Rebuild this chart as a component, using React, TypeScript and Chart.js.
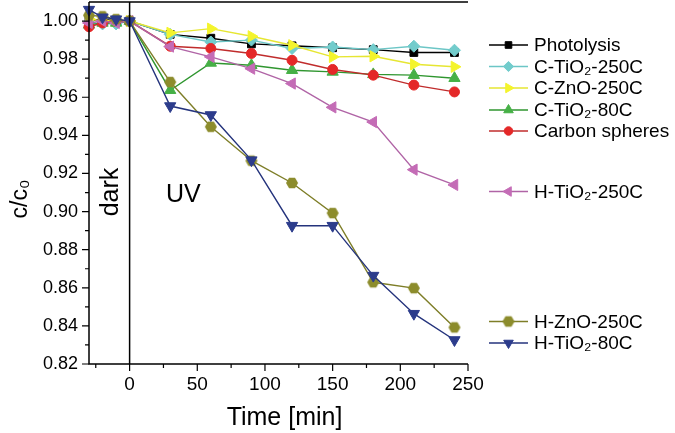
import React, { useEffect, useRef } from 'react';
import { Chart, registerables } from 'chart.js';
import { drawPoint } from 'chart.js/helpers';

Chart.register(...registerables);

// ---- data ----
const times = [-30, -20, -10, 0, 30, 60, 90, 120, 150, 180, 210, 240];
const photolysis = [1.0, 1.001, 1.0, 1.0, 0.993, 0.991, 0.988, 0.987, 0.986, 0.985, 0.9835, 0.9835];
const cTiO2_250 = [0.999, 0.9985, 0.9985, 1.0, 0.993, 0.989, 0.99, 0.9856, 0.9864, 0.985, 0.9868, 0.9847];
const cZnO_250 = [1.001, 1.0, 1.0, 1.0, 0.9938, 0.996, 0.992, 0.9873, 0.9812, 0.9815, 0.9773, 0.976];
const cTiO2_80 = [0.998, 0.999, 0.999, 1.0, 0.9637, 0.978, 0.9768, 0.9742, 0.9733, 0.972, 0.9716, 0.97];
const carbonSpheres = [0.997, 0.999, 1.0, 1.0, 0.9868, 0.9856, 0.983, 0.9794, 0.9746, 0.9716, 0.9664, 0.9628];
const hTiO2_250 = [0.999, 1.0, 0.999, 1.0, 0.9866, 0.9812, 0.975, 0.9672, 0.9547, 0.947, 0.922, 0.914];
const hZnO_250 = [1.003, 1.0025, 1.001, 1.0, 0.968, 0.9445, 0.9267, 0.915, 0.8992, 0.8629, 0.8598, 0.8392];
const hTiO2_80 = [1.006, 1.002, 1.001, 1.0, 0.9554, 0.9507, 0.927, 0.8926, 0.8926, 0.8664, 0.8464, 0.8326];

const seriesLabels = [
  'Photolysis',
  'C-TiO₂-250C',
  'C-ZnO-250C',
  'C-TiO₂-80C',
  'Carbon spheres',
  'H-TiO₂-250C',
  'H-ZnO-250C',
  'H-TiO₂-80C',
];

const xMajorTicks = [0, 50, 100, 150, 200, 250];
const xMinorTicks = [-25, 25, 75, 125, 175, 225];
const yMajorTicks = [0.82, 0.84, 0.86, 0.88, 0.9, 0.92, 0.94, 0.96, 0.98, 1.0];
const yMinorTicks = [0.83, 0.85, 0.87, 0.89, 0.91, 0.93, 0.95, 0.97, 0.99];

// ---- styles ----
const markerColors = ['#000000', '#72CCCC', '#F4F42C', '#46B046', '#E42828', '#C46CB6', '#8C8C2C', '#2C3C8C'];
const lineColors = ['#000000', '#6CC6C6', '#E6E632', '#2F962F', '#C02C2C', '#B064A6', '#7E7E28', '#24337C'];
const pointStyles: any[] = ['rect', 'rectRot', 'triangle', 'triangle', 'circle', 'triangle', 'hexagon', 'triangle'];
const pointRotations = [0, 0, 90, 0, 0, -90, 0, 180];
const pointRadii = [5.5, 6, 6.5, 6.5, 5, 6.5, 6, 6.5];
const legendRowsY = [45, 66.5, 88, 110, 131, 191.5, 321.5, 343];

const FONT = "'Liberation Sans', Arial, Helvetica, sans-serif";

function makeHexagon(color: string, r: number): HTMLCanvasElement {
  const c = document.createElement('canvas');
  const s = Math.ceil(r * 2 + 2);
  c.width = s;
  c.height = s;
  const ctx = c.getContext('2d')!;
  ctx.fillStyle = color;
  ctx.beginPath();
  for (let i = 0; i < 6; i++) {
    const a = (Math.PI / 3) * i;
    const px = s / 2 + r * Math.cos(a);
    const py = s / 2 + r * Math.sin(a);
    if (i === 0) ctx.moveTo(px, py);
    else ctx.lineTo(px, py);
  }
  ctx.closePath();
  ctx.fill();
  return c;
}

const decorPlugin = {
  id: 'decor',
  afterDatasetsDraw(chart: any) {
    const ctx = chart.ctx as CanvasRenderingContext2D;
    const xs = chart.scales.x;
    const ys = chart.scales.y;
    const area = chart.chartArea;
    ctx.save();
    ctx.strokeStyle = '#000';
    ctx.lineWidth = 1.5;
    ctx.lineCap = 'butt';
    // axes frame (left, bottom, top)
    ctx.beginPath();
    ctx.moveTo(area.left, area.top);
    ctx.lineTo(area.left, area.bottom);
    ctx.lineTo(area.right, area.bottom);
    ctx.moveTo(area.left, area.top);
    ctx.lineTo(area.right, area.top);
    ctx.stroke();
    // vertical line at t = 0
    const x0 = xs.getPixelForValue(0);
    ctx.beginPath();
    ctx.moveTo(x0, area.top);
    ctx.lineTo(x0, area.bottom);
    ctx.stroke();
    // tick marks
    ctx.lineWidth = 1.2;
    ctx.beginPath();
    xMajorTicks.forEach((v) => {
      const p = xs.getPixelForValue(v);
      ctx.moveTo(p, area.bottom);
      ctx.lineTo(p, area.bottom + 7);
    });
    xMinorTicks.forEach((v) => {
      const p = xs.getPixelForValue(v);
      ctx.moveTo(p, area.bottom);
      ctx.lineTo(p, area.bottom + 4);
    });
    yMajorTicks.forEach((v) => {
      const p = ys.getPixelForValue(v);
      ctx.moveTo(area.left, p);
      ctx.lineTo(area.left - 7, p);
    });
    yMinorTicks.forEach((v) => {
      const p = ys.getPixelForValue(v);
      ctx.moveTo(area.left, p);
      ctx.lineTo(area.left - 4, p);
    });
    ctx.stroke();

    ctx.fillStyle = '#000';
    // axis titles
    ctx.font = `25px ${FONT}`;
    ctx.textAlign = 'center';
    ctx.textBaseline = 'alphabetic';
    ctx.fillText('Time [min]', (area.left + area.right) / 2 + 6, 425);

    ctx.save();
    ctx.translate(27, 199);
    ctx.rotate(-Math.PI / 2);
    ctx.font = `23px ${FONT}`;
    ctx.textAlign = 'center';
    ctx.fillText('c/c₀', 0, 0);
    ctx.restore();

    // annotations
    ctx.save();
    ctx.translate(118, 192);
    ctx.rotate(-Math.PI / 2);
    ctx.font = `25px ${FONT}`;
    ctx.textAlign = 'center';
    ctx.fillText('dark', 0, 0);
    ctx.restore();

    ctx.font = `25px ${FONT}`;
    ctx.textAlign = 'left';
    ctx.fillText('UV', 166, 202);

    // legend
    const lx0 = 489;
    const lx1 = 528;
    chart.data.datasets.forEach((ds: any, i: number) => {
      const y = legendRowsY[i];
      ctx.strokeStyle = lineColors[i];
      ctx.lineWidth = 1.5;
      ctx.beginPath();
      ctx.moveTo(lx0, y);
      ctx.lineTo(lx1, y);
      ctx.stroke();
      ctx.fillStyle = markerColors[i];
      ctx.strokeStyle = markerColors[i];
      ctx.lineWidth = 1;
      drawPoint(ctx, {
        pointStyle: ds.pointStyle,
        rotation: pointRotations[i],
        radius: pointRadii[i] * 0.85,
        borderWidth: 1,
      } as any, (lx0 + lx1) / 2, y);
      ctx.fillStyle = '#000';
      ctx.font = `19px ${FONT}`;
      ctx.textAlign = 'left';
      ctx.textBaseline = 'middle';
      ctx.fillText(seriesLabels[i], 534, y + 1);
    });
    ctx.restore();
  },
};

export default function App() {
  const canvasRef = useRef<HTMLCanvasElement | null>(null);

  useEffect(() => {
    const canvas = canvasRef.current;
    if (!canvas) return;
    const allSeries = [photolysis, cTiO2_250, cZnO_250, cTiO2_80, carbonSpheres, hTiO2_250, hZnO_250, hTiO2_80];
    const n = allSeries.length;
    const datasets = allSeries.map((vals, i) => ({
      label: seriesLabels[i],
      data: vals.map((v, k) => ({ x: times[k], y: v })),
      borderColor: lineColors[i],
      backgroundColor: markerColors[i],
      pointBackgroundColor: markerColors[i],
      pointBorderColor: markerColors[i],
      pointBorderWidth: 1,
      borderWidth: 1.4,
      pointStyle: pointStyles[i] === 'hexagon' ? makeHexagon(markerColors[i], pointRadii[i]) : pointStyles[i],
      pointRotation: pointRotations[i],
      pointRadius: pointRadii[i],
      tension: 0,
      clip: false as any,
      order: n - i,
    }));

    const chart = new Chart(canvas, {
      type: 'line',
      data: { datasets },
      options: {
        animation: false,
        responsive: false,
        devicePixelRatio: 1,
        layout: { padding: { left: 0, right: 207, top: 2, bottom: 0 }, autoPadding: false } as any,
        plugins: { legend: { display: false }, tooltip: { enabled: false } },
        scales: {
          x: {
            type: 'linear',
            min: -30,
            max: 250,
            grid: { display: false, drawTicks: false },
            border: { display: false },
            ticks: {
              color: '#000',
              font: { family: FONT, size: 19 },
              padding: 9,
              maxRotation: 0,
              callback: (v: any) => String(v),
            },
            afterBuildTicks: (s: any) => {
              s.ticks = xMajorTicks.map((v) => ({ value: v }));
            },
            afterFit: (s: any) => {
              s.height = 69;
              s.paddingLeft = 0;
              s.paddingRight = 0;
            },
          },
          y: {
            type: 'linear',
            min: 0.82,
            max: 1.01,
            grid: { display: false, drawTicks: false },
            border: { display: false },
            ticks: {
              color: '#000',
              font: { family: FONT, size: 18 },
              padding: 11,
              callback: (v: any) => Number(v).toFixed(2),
            },
            afterBuildTicks: (s: any) => {
              s.ticks = yMajorTicks.map((v) => ({ value: v }));
            },
            afterFit: (s: any) => {
              s.width = 89;
              s.paddingTop = 0;
              s.paddingBottom = 0;
            },
          },
        },
      },
      plugins: [decorPlugin],
    });
    return () => chart.destroy();
  }, []);

  return (
    <div style={{ position: 'absolute', left: 0, top: 0, width: 675, height: 433, background: '#fff' }}>
      <canvas ref={canvasRef} width={675} height={433} style={{ width: 675, height: 433, display: 'block' }} />
    </div>
  );
}
